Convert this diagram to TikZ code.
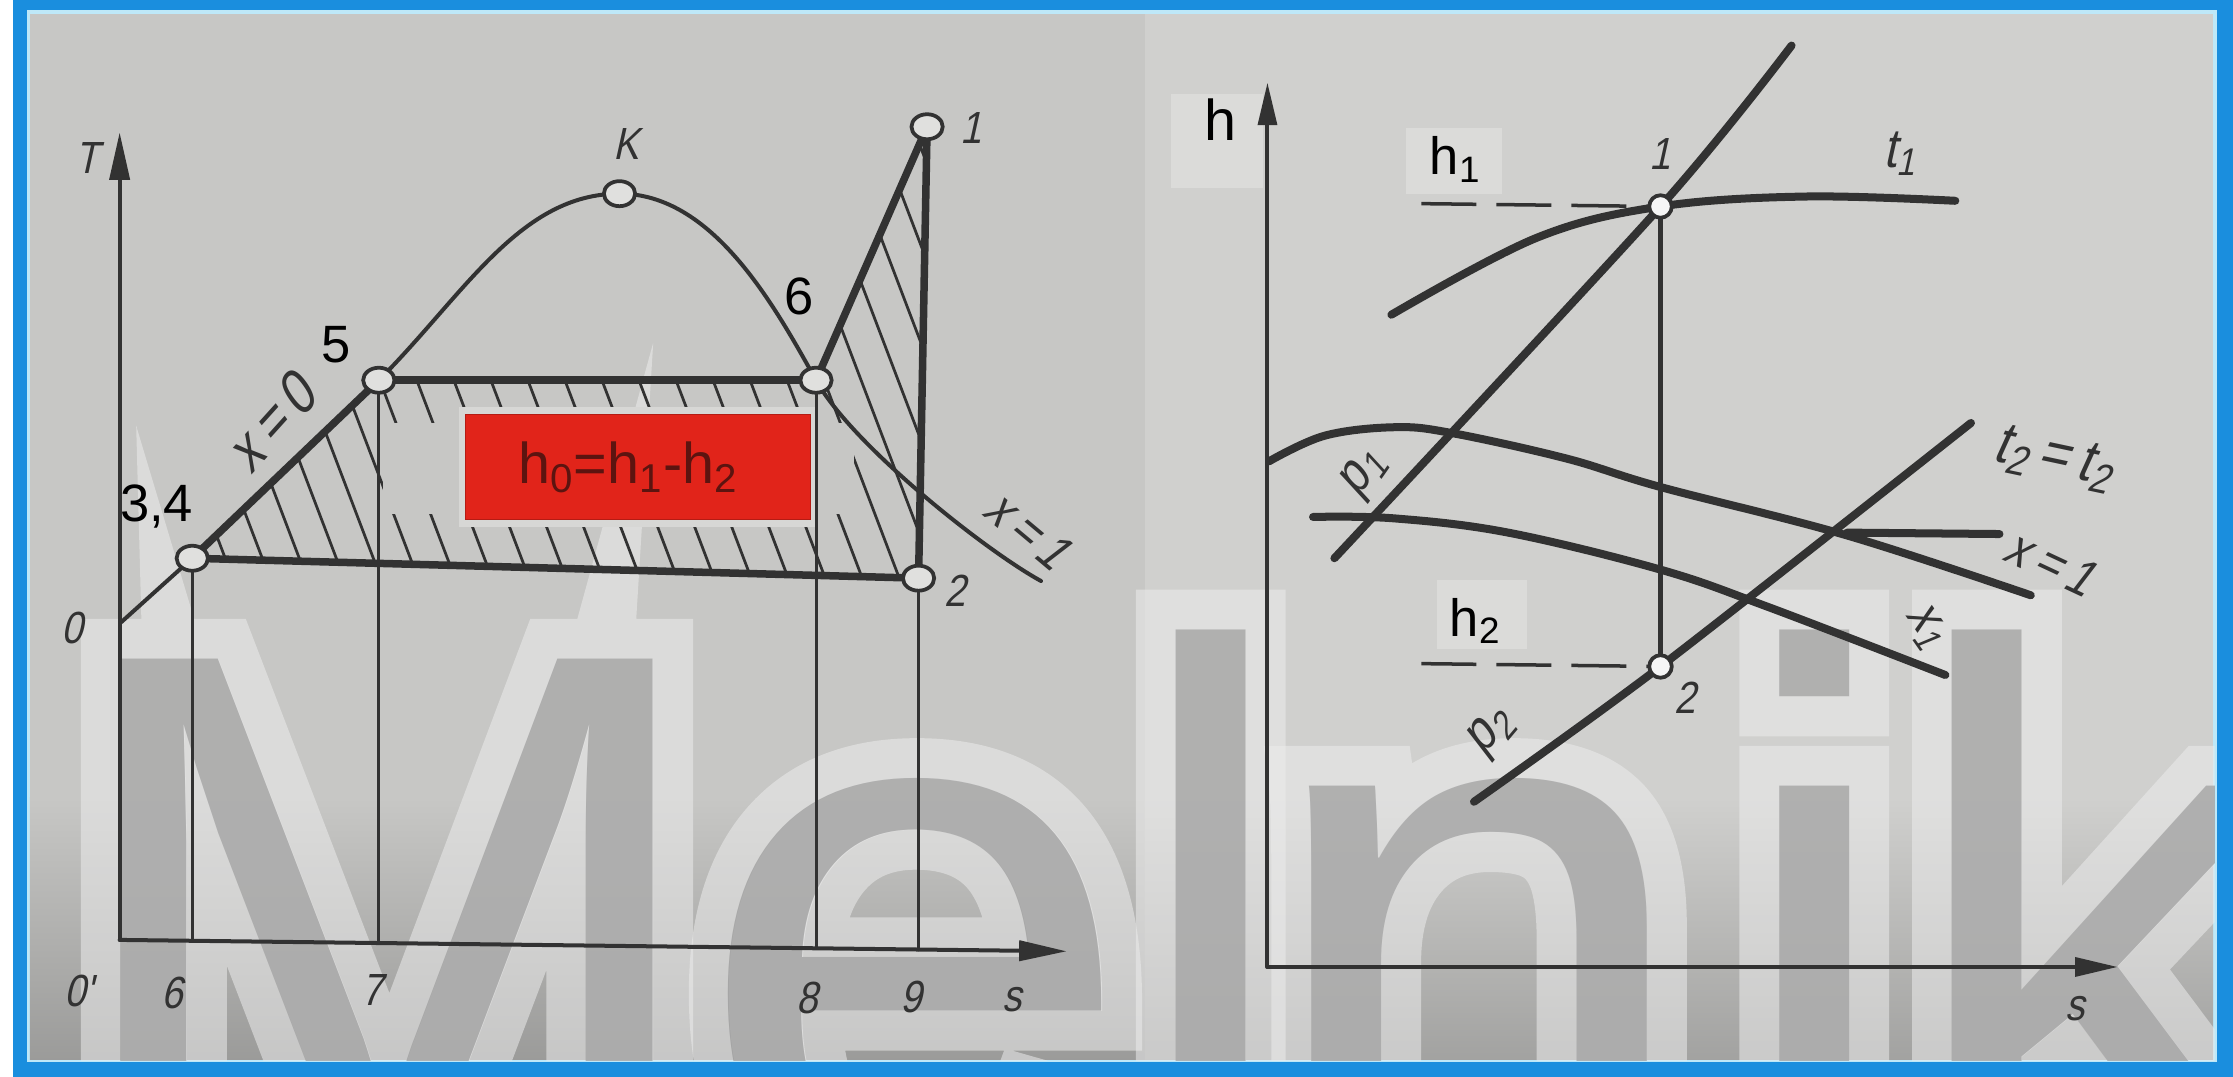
\documentclass[tikz,border=0pt]{standalone}
\usepackage{fontspec}
\setmainfont{Liberation Sans}
\newfontfamily\draftfont{Liberation Sans}[FakeSlant=0.22,FakeStretch=0.85]
\newfontfamily\wmfont{Liberation Sans}
\newfontfamily\wmhalofont{Liberation Sans}[FakeBold=10]
\usetikzlibrary{arrows.meta,shapes.geometric}
\newcommand{\fsz}[1]{\fontsize{#1}{#1}\selectfont}
\definecolor{inkc}{RGB}{50,50,50}
\definecolor{bgL}{RGB}{199,199,197}
\definecolor{bgR}{RGB}{208,208,206}
\definecolor{frameblue}{RGB}{26,142,222}
\definecolor{framelight}{RGB}{190,232,248}
\definecolor{ptfill}{RGB}{224,224,222}
\definecolor{boxred}{RGB}{225,36,26}
\definecolor{boxedge}{RGB}{180,28,20}
\definecolor{boxtext}{RGB}{92,20,16}
\definecolor{boxmargin}{RGB}{215,215,213}
\definecolor{patch}{RGB}{219,219,217}
\definecolor{wmin}{RGB}{140,140,140}
\definecolor{wmhalo}{RGB}{236,236,236}
\tikzset{
  inkline/.style={draw=inkc, line cap=round, line join=round},
  thinline/.style={inkline, line width=1.6pt},
  dropline/.style={inkline, line width=1.2pt},
  thickline/.style={inkline, line width=3pt},
  rthick/.style={inkline, line width=3.2pt},
  hatchline/.style={draw=inkc, line width=1.1pt},
  dashline/.style={draw=inkc, line width=1.4pt, dash pattern=on 22pt off 8pt},
  axisL/.style={inkline, line width=1.6pt, -{Triangle[length=19pt,width=8pt]}},
  axisR/.style={inkline, line width=1.6pt, -{Triangle[length=17pt,width=7.5pt]}},
  ptL/.style={ellipse, draw=inkc, line width=1.5pt, fill=ptfill, minimum width=12.5pt, minimum height=10pt, inner sep=0pt},
  ptR/.style={circle, draw=inkc, line width=1.5pt, fill=white!92!gray, minimum size=9pt, inner sep=0pt},
  sanslab/.style={font=\fsz{21}, text=black, inner sep=0pt},
  draftlab/.style={font=\draftfont\fsz{18}, text=inkc, inner sep=0pt},
  wmhalo/.style={anchor=base west, inner sep=0pt, outer sep=0pt, text=wmhalo, opacity=0.55, font=\wmhalofont\fsz{318}},
  wminner/.style={anchor=base west, inner sep=0pt, outer sep=0pt, text=wmin, opacity=0.6, font=\wmfont\fsz{318}}
}
\begin{document}
\begin{tikzpicture}[x=0.02cm,y=-0.02cm]
\useasboundingbox (0,0) rectangle (1568,756);
% frame and panels
\fill[white] (0,0) rectangle (1568,756);
\fill[frameblue] (9,0) rectangle (1568,756);
\fill[framelight] (19,7) rectangle (1557,746);
\fill[bgL] (21,10) rectangle (804,744);
\fill[bgR] (804,10) rectangle (1554,744);
\shade[top color=bgL, bottom color=bgL!78!black] (21,560) rectangle (804,744);
\shade[top color=bgR, bottom color=bgR!78!black] (804,560) rectangle (1554,744);

% ---------------- watermark (under the drawing) ----------------
\begin{scope}
  \clip (19,10) rectangle (1555,745);
  \node[wmhalo] (wh1) at (39,847) {M};
  \node[wmhalo] (wh2) at (488,847) {e};
  \node[wmhalo] (wh3) at (788,847) {l};
  \node[wmhalo] (wh4) at (882,847) {n};
  \node[wmhalo] (wh5) at (1212,847) {i};
  \node[wmhalo] (wh6) at (1333,847) {k};
  \node[wminner] (wi1) at (39,847) {M};
  \node[wminner] (wi2) at (488,847) {e};
  \node[wminner] (wi3) at (788,847) {l};
  \node[wminner] (wi4) at (882,847) {n};
  \node[wminner] (wi5) at (1212,847) {i};
  \node[wminner] (wi6) at (1333,847) {k};
\end{scope}

% light patches behind the h labels
\fill[patch] (822,66) rectangle (887,132);
\fill[patch] (987,90) rectangle (1055,136);
\fill[patch] (1009,407) rectangle (1072,456);

% ---------------- left: T-s diagram ----------------
\coordinate (oL) at (84,660);
\coordinate (Ttip) at (84,93);
\coordinate (sLtip) at (749,668);
\coordinate (cO) at (85,437);
\coordinate (c34) at (135,392);
\coordinate (c5) at (266,267);
\coordinate (cK) at (435,136);
\coordinate (c6) at (573,267);
\coordinate (c1L) at (651,89);
\coordinate (c2L) at (645,406);
\coordinate (cx1end) at (731,408);
\coordinate (b6) at (135,661);
\coordinate (b7) at (266,662);
\coordinate (b8) at (573,666);
\coordinate (b9) at (645,667);

% hatching of the cycle area
\begin{scope}
  \clip (c34) -- (c5) -- (c6) -- (c1L) -- (c2L) -- cycle;
  \foreach \k in {0,...,28} { \draw[hatchline] (\k*26-20,60) -- ++(152,400); }
\end{scope}
\fill[bgL] (269,297) rectangle (600,361);
\fill[boxmargin] (322,286) rectangle (574,370);

% axes
\draw[axisL] (oL) -- (Ttip);
\draw[axisL] (oL) -- (sLtip);
% vertical drops
\draw[dropline] (c34) -- (b6);
\draw[dropline] (c5) -- (b7);
\draw[dropline] (c6) -- (b8);
\draw[dropline] (c2L) -- (b9);
% saturation curve
\draw[thinline] (cO) -- (c34);
\draw[thinline] (c5) .. controls (326,207) and (365,136) .. (cK);
\draw[thinline] (cK) .. controls (500,136) and (543,213) .. (c6);
\draw[thinline] (c6) .. controls (598,312) and (691,386) .. (cx1end);
% cycle
\draw[thickline] (c34) -- (c5);
\draw[thickline] (c5) -- (c6);
\draw[thickline] (c6) -- (c1L);
\draw[thickline] (c1L) -- (c2L);
\draw[thickline] (c2L) -- (c34);
% points
\node[ptL] (p34) at (c34) {};
\node[ptL] (p5) at (c5) {};
\node[ptL] (pK) at (cK) {};
\node[ptL] (p6) at (c6) {};
\node[ptL] (p1L) at (c1L) {};
\node[ptL] (p2L) at (c2L) {};
% red box
\node[draw=boxedge, line width=0.6pt, fill=boxred, minimum width=137.7pt, minimum height=42pt, inner sep=0pt] (hbox) at (448,328) {};
\node[font=\fsz{23}, text=boxtext, inner sep=0pt] (htext) at (441,328) {h\textsubscript{0}=h\textsubscript{1}-h\textsubscript{2}};
% labels
\node[draftlab] (lT) at (61,111) {T};
\node[draftlab] (lO) at (51,441) {0};
\node[draftlab] (l0p) at (55,696) {0'};
\node[draftlab] (l6) at (121,697) {6};
\node[draftlab] (l7) at (261,695) {7};
\node[draftlab] (l8) at (567,701) {8};
\node[draftlab] (l9) at (640,700) {9};
\node[draftlab] (lsL) at (711,702) {s};
\node[draftlab] (lK) at (440,101) {K};
\node[draftlab] (l1L) at (682,90) {1};
\node[draftlab] (l2L) at (671,415) {2};
\node[draftlab, font=\draftfont\fsz{24}, rotate=48] (lx0) at (190,297) {x\,=\,0};
\node[draftlab, font=\draftfont\fsz{21}, rotate=-40] (lx1L) at (722,372) {x\,=\,1};
\node[sanslab] (l34) at (110,356) {3,4};
\node[sanslab] (l5) at (236,242) {5};
\node[sanslab] (l6u) at (561,208) {6};

% ---------------- right: h-s diagram ----------------
\coordinate (oR) at (890,679);
\coordinate (htip) at (890,58);
\coordinate (sRtip) at (1487,679);
\coordinate (c1R) at (1166,145);
\coordinate (c2R) at (1166,468);
\coordinate (dh1) at (998,143);
\coordinate (dh2) at (998,466);
\coordinate (t2a) at (1297,374);
\coordinate (t2b) at (1404,375);

\draw[axisR] (oR) -- (htip);
\draw[axisR] (oR) -- (sRtip);
\draw[dashline] (dh1) -- (c1R);
\draw[dashline] (dh2) -- (c2R);
\draw[inkline, line width=1.8pt] (c1R) -- (c2R);
% saturation line x=1 and dryness line x1
\draw[rthick] plot[smooth, tension=0.6] coordinates {(891,324) (930,306) (979,300) (1019,304) (1100,322) (1166,342) (1297,376) (1426,418)};
\draw[rthick] plot[smooth, tension=0.6] coordinates {(922,363) (979,364) (1059,374) (1166,400) (1241,426) (1366,474)};
\draw[rthick] (t2a) -- (t2b);
% isobars and isotherm t1
\draw[rthick] plot[smooth] coordinates {(937,392) (1166,145) (1258,32)};
\draw[rthick] plot[smooth] coordinates {(1035,563) (1166,468) (1384,297)};
\draw[rthick] plot[smooth, tension=0.6] coordinates {(977,221) (1079,167) (1166,145) (1268,138) (1373,141)};
\node[ptR] (p1R) at (c1R) {};
\node[ptR] (p2R) at (c2R) {};
% labels
\node[sanslab, font=\fsz{23}] (lh) at (857,84) {h};
\node[sanslab] (lh1) at (1022,112) {h\textsubscript{1}};
\node[sanslab] (lh2) at (1036,436) {h\textsubscript{2}};
\node[draftlab] (l1R) at (1166,108) {1};
\node[draftlab] (l2R) at (1183,490) {2};
\node[draftlab, font=\draftfont\fsz{22}] (lt1) at (1334,108) {t\textsubscript{1}};
\node[draftlab, font=\draftfont\fsz{24}, rotate=-12] (lt2) at (1442,322) {t\textsubscript{2}\,=\,t\textsubscript{2}};
\node[draftlab, font=\draftfont\fsz{21}, rotate=-25] (lx1R) at (1440,395) {x\,=\,1};
\node[draftlab, font=\draftfont\fsz{21}, rotate=-55] (lxone) at (1352,440) {x\textsubscript{1}};
\node[draftlab, font=\draftfont\fsz{22}, rotate=55] (lp1) at (958,333) {p\textsubscript{1}};
\node[draftlab, font=\draftfont\fsz{22}, rotate=50] (lp2) at (1047,515) {p\textsubscript{2}};
\node[draftlab] (lsR) at (1457,708) {s};
\end{tikzpicture}
\end{document}
